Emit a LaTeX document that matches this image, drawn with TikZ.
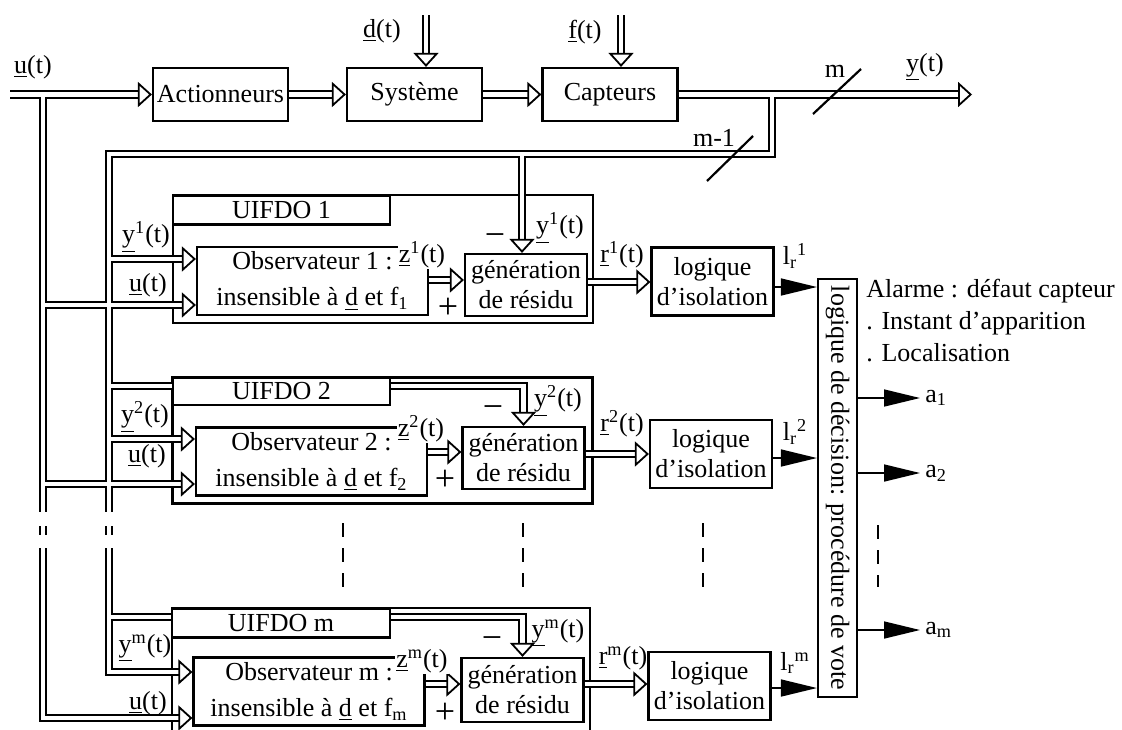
\documentclass[tikz,border=0pt]{standalone}
\usepackage{fontspec}
\setmainfont{Liberation Serif}
\usetikzlibrary{arrows.meta,positioning}

\begin{document}
\begin{tikzpicture}[x=0.5pt,y=-0.5pt,font=\fontsize{13}{15}\selectfont,
        box/.style={draw,line width=1.1pt,inner sep=0pt,align=center},
        topbox/.style={box,minimum width=67.5pt,minimum height=26.5pt},
        outer/.style={box,minimum width=210pt,minimum height=63pt},
        obs/.style={box,minimum width=115.5pt,minimum height=34pt},
        res/.style={box,minimum width=61pt,minimum height=31pt},
        logic/.style={box,minimum width=61pt,minimum height=34pt},
        tab/.style={box,fill=white,minimum width=108.5pt,minimum height=14.5pt},
        sig/.style={preaction={draw,-,double=white,double distance=2.4pt,line width=0.9pt,shorten >=6pt},
                    draw=white,line width=0.9pt,-{Triangle[length=7pt,width=12.5pt,color=black,fill=white]}},
        inside/.style={white,line width=2.4pt},
        tri/.style={line width=0.8pt,-{Triangle[length=18pt,width=8.5pt]}},
        gapline/.style={line width=1.3pt,dash pattern=on 7pt off 5.5pt},
        slash/.style={line width=1.1pt},
        lbl/.style={inner sep=0.5pt},
        zlbl/.style={lbl,fill=white},
        sgn/.style={inner sep=0pt,font=\fontsize{18}{18}\selectfont}]
   \useasboundingbox (0,0) rectangle (1122,729);

   % chaine directe
   \node[topbox] (act) at (220.5,94.5) {Actionneurs};
   \node[topbox] (sys) at (414.5,94.5) {Système};
   \node[topbox] (cap) at (610,94.5) {Capteurs};

   % UIFDO 1
   \node[outer,minimum height=64pt] (outA) at (383,259) {};
   \node[obs] (obsA) at (312.5,281) {Observateur 1 :\\[3pt]insensible à \underline{d} et f\textsubscript{1}};
   \node[res] (resA) at (526,285) {génération\\de résidu};
   \node[logic] (logA) at (712.5,281.5) {logique\\d'isolation};

   % UIFDO 2
   \node[outer] (outB) at (382.5,440.5) {};
   \node[obs] (obsB) at (311.5,461.5) {Observateur 2 :\\[3pt]insensible à \underline{d} et f\textsubscript{2}};
   \node[res] (resB) at (523.5,458) {génération\\de résidu};
   \node[logic] (logB) at (711,454) {logique\\d'isolation};

   % UIFDO m
   \node[outer,minimum width=209pt,minimum height=68.5pt] (outM) at (381,676.5) {};
   \node[obs] (obsM) at (309,691.5) {Observateur m :\\[3pt]insensible à \underline{d} et f\textsubscript{m}};
   \node[res,minimum height=32pt] (resM) at (522.5,690) {génération\\de résidu};
   \node[logic] (logM) at (709.5,686) {logique\\d'isolation};

   % decision
   \node[box,rotate=-90,minimum width=209pt,minimum height=19.5pt] (dec) at (837.5,488) {logique de décision: procédure de vote};

   \coordinate (uin) at (10,94.5);
   \coordinate (ubus) at (43,94.5);
   \coordinate (yfb) at (772,94.5);
   \coordinate (yout) at (972,94.5);
   \coordinate (ycorner) at (109,154);
   \coordinate (din) at (426,15);
   \coordinate (fin) at (621,15);

   \coordinate (yinA) at (109,259); \coordinate (uinA) at (43,305);
   \coordinate (zA) at (0,280); \coordinate (rA) at (0,282); \coordinate (lA) at (0,287);
   \coordinate (yfbA) at (522,154);
   \coordinate (yinB) at (109,439); \coordinate (uinB) at (43,484);
   \coordinate (zB) at (0,452); \coordinate (rB) at (0,454); \coordinate (lB) at (0,458);
   \coordinate (ybrB) at (109,386);
   \coordinate (yinM) at (109,672); \coordinate (uinM) at (43,718);
   \coordinate (zM) at (0,684); \coordinate (rM) at (0,684); \coordinate (lM) at (0,688);
   \coordinate (ybrM) at (109,617);
   \coordinate (a1) at (920,398); \coordinate (a2) at (920,473); \coordinate (am) at (920,630);

   % bus u et bus y
   \draw[sig] (ubus) |- (uinM -| obsM.west);
   \draw[sig] (yfb) |- (ycorner) |- (yinM -| obsM.west);

   \draw[sig] (uin) -- (act);
   \draw[sig] (act) -- (sys);
   \draw[sig] (sys) -- (cap);
   \draw[sig] (cap) -- (yout);
   \draw[sig] (din) -- (din |- sys.north);
   \draw[sig] (fin) -- (fin |- cap.north);

   \draw[sig] (yfbA) -- (yfbA |- resA.north);
   \draw[sig] (yinA) -- (yinA -| obsA.west);
   \draw[sig] (uinA) -- (uinA -| obsA.west);
   \draw[sig] (obsA.east |- zA) -- (zA -| resA.west);
   \draw[sig] (resA.east |- rA) -- (rA -| logA.west);

   \draw[sig] (ybrB) -| (resB.north);
   \draw[sig] (yinB) -- (yinB -| obsB.west);
   \draw[sig] (uinB) -- (uinB -| obsB.west);
   \draw[sig] (obsB.east |- zB) -- (zB -| resB.west);
   \draw[sig] (resB.east |- rB) -- (rB -| logB.west);

   \draw[sig] (ybrM) -| (resM.north);
   \draw[sig] (obsM.east |- zM) -- (zM -| resM.west);
   \draw[sig] (resM.east |- rM) -- (rM -| logM.west);

   % jonctions
   \draw[inside] (ubus) -- (uinM) -- ++(60,0);
   \draw[inside] (yfb) |- (ycorner) -- (yinM) -- ++(40,0);

   \node[tab] (tabA) at (281.5,210) {UIFDO 1};
   \node[tab,minimum height=13.5pt] (tabB) at (281.5,391.5) {UIFDO 2};
   \node[tab,minimum width=109pt] (tabM) at (281,623) {UIFDO m};

   % isolation -> decision -> alarmes
   \draw[tri] (logA.east |- lA) -- (lA -| dec.south);
   \draw[tri] (logB.east |- lB) -- (lB -| dec.south);
   \draw[tri] (logM.east |- lM) -- (lM -| dec.south);
   \draw[tri] (a1 -| dec.north) -- (a1);
   \draw[tri] (a2 -| dec.north) -- (a2);
   \draw[tri] (am -| dec.north) -- (am);
   \node[lbl,right=2pt of a1] (a1lbl) {a\textsubscript{1}};
   \node[lbl,right=2pt of a2] (a2lbl) {a\textsubscript{2}};
   \node[lbl,right=2pt of am] (amlbl) {a\textsubscript{m}};
   \node[lbl,align=left,anchor=north west,font=\fontsize{13}{16}\selectfont] (alarm) at (865,278) {Alarme : défaut capteur\\. Instant d'apparition\\. Localisation};

   % etiquettes
   \node[lbl] (ulbl) at (33,67) {\underline{u}(t)};
   \node[lbl] (dlbl) at (382,31) {\underline{d}(t)};
   \node[lbl] (flbl) at (585,32) {\underline{f}(t)};
   \node[lbl] (ylbl) at (925,67) {\underline{y}(t)};
   \node[lbl] (mlbl) at (835,71) {m};
   \node[lbl] (m1lbl) at (714,138) {m-1};

   \node[lbl] (yAlbl) at (146,237) {\underline{y}\textsuperscript{1}(t)};
   \node[lbl] (uAlbl) at (148,285) {\underline{u}(t)};
   \node[zlbl] (zAlbl) at (422,255) {\underline{z}\textsuperscript{1}(t)};
   \node[sgn] (mnA) at (495,240) {−};
   \node[sgn] (plA) at (448,308) {+};
   \node[lbl] (yrA) at (560,228) {\underline{y}\textsuperscript{1}(t)};
   \node[lbl] (rAlbl) at (622,255) {\underline{r}\textsuperscript{1}(t)};
   \node[lbl] (lrA) at (795,256) {l\textsubscript{r}\textsuperscript{1}};

   \node[lbl] (yBlbl) at (145,417) {\underline{y}\textsuperscript{2}(t)};
   \node[lbl] (uBlbl) at (147,456) {\underline{u}(t)};
   \node[zlbl] (zBlbl) at (421,429) {\underline{z}\textsuperscript{2}(t)};
   \node[sgn] (mnB) at (493,412) {−};
   \node[sgn] (plB) at (445,480) {+};
   \node[lbl] (yrB) at (558,401) {\underline{y}\textsuperscript{2}(t)};
   \node[lbl] (rBlbl) at (622,424) {\underline{r}\textsuperscript{2}(t)};
   \node[lbl] (lrB) at (795,432) {l\textsubscript{r}\textsuperscript{2}};

   \node[lbl] (yMlbl) at (145,648) {\underline{y}\textsuperscript{m}(t)};
   \node[lbl] (uMlbl) at (148,703) {\underline{u}(t)};
   \node[zlbl] (zMlbl) at (422,661) {\underline{z}\textsuperscript{m}(t)};
   \node[sgn] (mnM) at (492,643) {−};
   \node[sgn] (plM) at (445,713) {+};
   \node[lbl] (yrM) at (558,633) {\underline{y}\textsuperscript{m}(t)};
   \node[lbl] (rMlbl) at (623,658) {\underline{r}\textsuperscript{m}(t)};
   \node[lbl] (lrM) at (795,663) {l\textsubscript{r}\textsuperscript{m}};

   % pointilles
   \foreach \x in {343,523,703}
      \draw[gapline] (\x,523) -- (\x,587);
   \draw[gapline] (878,525) -- (878,587);
   \foreach \x in {43,109} {
      \fill[white] (\x-8,512) rectangle (\x+8,526);
      \fill[white] (\x-8,535) rectangle (\x+8,548);
   }

   % nombre de voies
   \draw[slash] (707,181) -- (753,136);
   \draw[slash] (813,114) -- (861,69);
\end{tikzpicture}
\end{document}
